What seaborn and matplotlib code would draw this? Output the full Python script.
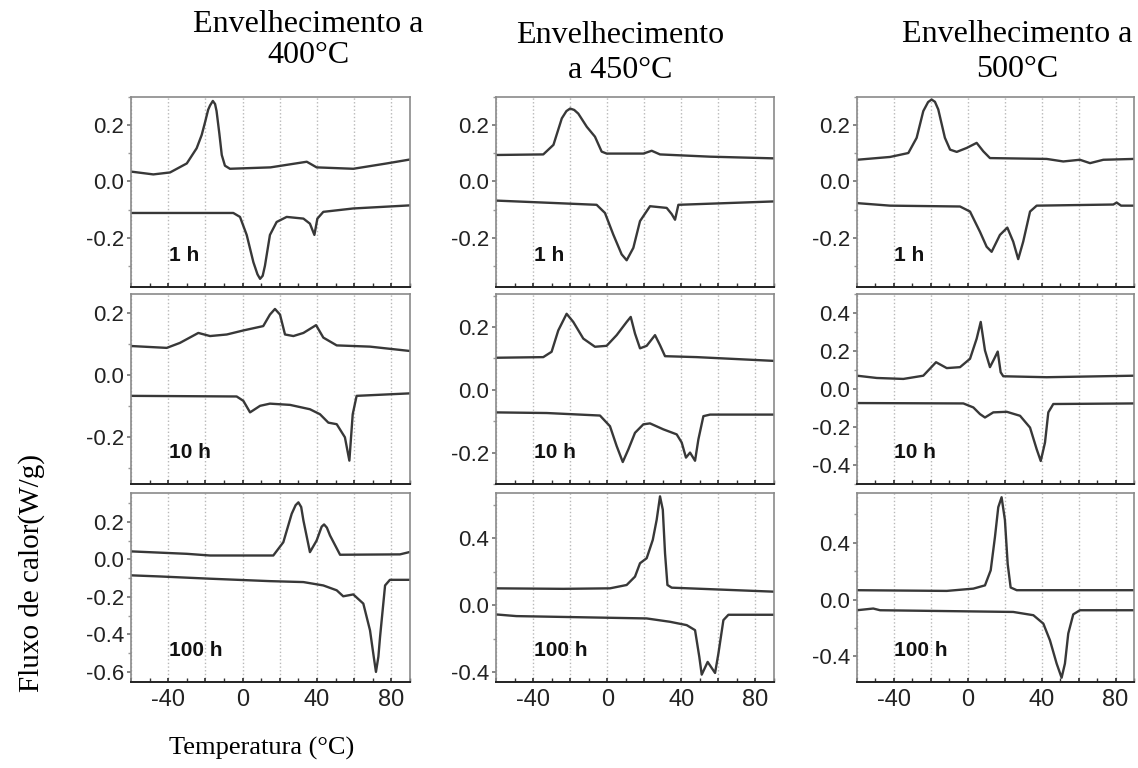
# -*- coding: utf-8 -*-
import matplotlib
matplotlib.use("Agg")
import matplotlib.pyplot as plt
import seaborn as sns
from matplotlib.ticker import MultipleLocator, FuncFormatter, FormatStrFormatter

# ==========================================
# 1. Data (T in °C, heat flow in W/g)
# ==========================================
# --- 400 °C ---
t400_1h_up = [-60, -48, -39, -30, -24.7, -22, -20.2, -18.5, -17.5, -16, -14.8, -14, -12.5, -11.2, -9.5, -6.8, 15, 34.5, 39.8, 59.5, 77.5, 90]
q400_1h_up = [0.035, 0.025, 0.032, 0.064, 0.118, 0.165, 0.21, 0.255, 0.27, 0.286, 0.275, 0.25, 0.17, 0.094, 0.056, 0.045, 0.05, 0.07, 0.05, 0.045, 0.064, 0.078]
t400_1h_dn = [-60, -5, -1.4, 2.2, 5.8, 8, 9.4, 10.8, 12, 14.7, 18.3, 23.7, 32.7, 36.2, 38.6, 40.2, 43.4, 59.5, 90]
q400_1h_dn = [-0.112, -0.112, -0.126, -0.19, -0.287, -0.33, -0.346, -0.335, -0.30, -0.19, -0.144, -0.126, -0.132, -0.15, -0.19, -0.132, -0.108, -0.096, -0.085]

t400_10h_up = [-60, -40.8, -33.7, -23.8, -17.5, -8.5, 0.4, 11.1, 14.7, 17.4, 20.1, 22.8, 27.3, 32.7, 39.5, 43.4, 50.6, 68.5, 90]
q400_10h_up = [0.093, 0.087, 0.103, 0.135, 0.125, 0.13, 0.143, 0.157, 0.194, 0.212, 0.194, 0.13, 0.125, 0.135, 0.16, 0.12, 0.095, 0.091, 0.077]
t400_10h_dn = [-60, -3.2, 0.4, 4, 9.4, 14.7, 25.5, 36.2, 41.6, 46.1, 50.6, 55, 57.4, 59.2, 61.3, 90]
q400_10h_dn = [-0.067, -0.069, -0.083, -0.12, -0.099, -0.092, -0.096, -0.11, -0.126, -0.153, -0.158, -0.2, -0.275, -0.126, -0.067, -0.059]

t400_100h_up = [-60, -30, -17.5, 16.5, 21.9, 26.4, 28.5, 30, 31.5, 32.7, 36.2, 39.8, 42.5, 43.8, 45.3, 47, 52.4, 84.6, 90]
q400_100h_up = [0.043, 0.03, 0.021, 0.021, 0.092, 0.244, 0.29, 0.305, 0.28, 0.208, 0.039, 0.101, 0.175, 0.187, 0.17, 0.128, 0.025, 0.027, 0.04]
t400_100h_dn = [-60, -44.4, -17.5, 14.7, 32.7, 43.4, 50.6, 54.1, 59.5, 64.9, 68.5, 70.5, 71.7, 73, 73.9, 76.6, 79.2, 90]
q400_100h_dn = [-0.085, -0.091, -0.103, -0.116, -0.121, -0.139, -0.165, -0.197, -0.187, -0.236, -0.379, -0.52, -0.601, -0.52, -0.414, -0.139, -0.109, -0.109]

# --- 450 °C ---
t450_1h_up = [-60, -34.5, -29, -24.5, -22, -20, -17.8, -15.6, -11, -6.6, -3, -0.3, 19.5, 24, 28.5, 55.5, 90]
q450_1h_up = [0.094, 0.096, 0.13, 0.224, 0.25, 0.259, 0.254, 0.241, 0.194, 0.159, 0.106, 0.099, 0.099, 0.109, 0.096, 0.088, 0.082]
t450_1h_dn = [-60, -27.2, -5.7, -1.2, 3.3, 7.8, 10.5, 14.1, 17.7, 23.1, 32.1, 34.8, 36.6, 38.4, 90]
q450_1h_dn = [-0.068, -0.077, -0.083, -0.112, -0.189, -0.259, -0.28, -0.236, -0.141, -0.088, -0.094, -0.116, -0.136, -0.083, -0.071]

t450_10h_up = [-60, -34.5, -30, -26.4, -21.9, -18.3, -12.9, -6.6, -0.3, 5.1, 10.5, 12.7, 15, 17.7, 21.3, 25.8, 28.5, 31.2, 48.3, 90]
q450_10h_up = [0.102, 0.104, 0.121, 0.189, 0.242, 0.216, 0.163, 0.137, 0.14, 0.174, 0.216, 0.232, 0.179, 0.132, 0.14, 0.174, 0.142, 0.107, 0.104, 0.092]
t450_10h_dn = [-60, -32.6, -3.9, 1.5, 5.1, 8.4, 11.4, 15, 19.5, 23.1, 30.3, 37.5, 40.2, 42.5, 44.7, 47.4, 49.2, 51.9, 55.5, 90]
q450_10h_dn = [-0.072, -0.074, -0.082, -0.116, -0.179, -0.23, -0.19, -0.137, -0.11, -0.107, -0.126, -0.142, -0.168, -0.216, -0.2, -0.226, -0.158, -0.084, -0.079, -0.079]

t450_100h_up = [-60, -23.7, 1.5, 10.5, 15, 17.7, 21.3, 24.6, 26.7, 28.5, 30, 31.2, 32.5, 34.8, 90]
q450_100h_up = [0.1, 0.097, 0.1, 0.12, 0.17, 0.25, 0.28, 0.39, 0.51, 0.65, 0.57, 0.31, 0.12, 0.104, 0.08]
t450_100h_dn = [-60, -49, 21.3, 33.9, 42.9, 47.4, 49.7, 51, 54.2, 58.2, 60, 62.7, 65.4, 90]
q450_100h_dn = [-0.056, -0.066, -0.08, -0.1, -0.12, -0.15, -0.31, -0.416, -0.34, -0.406, -0.29, -0.09, -0.058, -0.058]

# --- 500 °C ---
t500_1h_up = [-60, -42.1, -32.2, -27.7, -24.1, -21.5, -19.6, -17.8, -16, -12.4, -9.6, -6, -0.6, 4.8, 8.4, 12, 42.7, 51.7, 60.7, 66.2, 73.4, 90]
q500_1h_up = [0.077, 0.087, 0.101, 0.155, 0.25, 0.282, 0.291, 0.283, 0.256, 0.155, 0.113, 0.105, 0.119, 0.137, 0.107, 0.083, 0.08, 0.071, 0.077, 0.065, 0.077, 0.08]
t500_1h_dn = [-60, -42.1, -4.2, 1.2, 6.6, 10.2, 12.9, 17.4, 21.4, 24.6, 27.3, 30, 33.7, 37.3, 78.8, 80.6, 83, 90]
q500_1h_dn = [-0.077, -0.086, -0.089, -0.107, -0.179, -0.232, -0.25, -0.19, -0.164, -0.214, -0.276, -0.214, -0.107, -0.086, -0.082, -0.075, -0.086, -0.086]

t500_10h_up = [-60, -49.3, -34.9, -24.1, -17.2, -11.4, -4.2, 1.2, 4.8, 7, 9.3, 12, 14.3, 16.2, 17.8, 19.2, 42.7, 90]
q500_10h_up = [0.07, 0.058, 0.053, 0.07, 0.141, 0.11, 0.115, 0.159, 0.265, 0.353, 0.203, 0.115, 0.159, 0.197, 0.088, 0.067, 0.062, 0.07]
t500_10h_dn = [-60, -2.4, 3, 6.6, 9.3, 13.8, 21.1, 28.3, 33.7, 37.3, 39.5, 41.8, 43.6, 46.3, 90]
q500_10h_dn = [-0.074, -0.076, -0.097, -0.132, -0.15, -0.123, -0.12, -0.141, -0.203, -0.317, -0.379, -0.282, -0.123, -0.079, -0.076]

t500_100h_up = [-60, -11.4, 3, 9.3, 12.4, 14.7, 16.5, 18.3, 20.1, 21.6, 23.2, 26.5, 90]
q500_100h_up = [0.066, 0.061, 0.077, 0.1, 0.206, 0.44, 0.65, 0.72, 0.56, 0.25, 0.085, 0.066, 0.066]
t500_100h_dn = [-60, -51.2, -47.5, 24.6, 35.5, 40.9, 44.5, 48.1, 50.8, 52.6, 54.4, 57.1, 60.7, 90]
q500_100h_dn = [-0.075, -0.063, -0.075, -0.087, -0.11, -0.169, -0.287, -0.45, -0.55, -0.45, -0.239, -0.104, -0.075, -0.075]

col_titles = ["Envelhecimento a\n400°C", "Envelhecimento\na 450°C", "Envelhecimento a\n500°C"]
row_labels = ["1 h", "10 h", "100 h"]

panels = [
    [(t400_1h_up, q400_1h_up, t400_1h_dn, q400_1h_dn),
     (t400_10h_up, q400_10h_up, t400_10h_dn, q400_10h_dn),
     (t400_100h_up, q400_100h_up, t400_100h_dn, q400_100h_dn)],
    [(t450_1h_up, q450_1h_up, t450_1h_dn, q450_1h_dn),
     (t450_10h_up, q450_10h_up, t450_10h_dn, q450_10h_dn),
     (t450_100h_up, q450_100h_up, t450_100h_dn, q450_100h_dn)],
    [(t500_1h_up, q500_1h_up, t500_1h_dn, q500_1h_dn),
     (t500_10h_up, q500_10h_up, t500_10h_dn, q500_10h_dn),
     (t500_100h_up, q500_100h_up, t500_100h_dn, q500_100h_dn)],
]

# ==========================================
# 2. Style and layout
# ==========================================
sns.set_theme(style="white")
plt.rcParams['font.family'] = ['Liberation Sans', 'DejaVu Sans']
plt.rcParams['axes.unicode_minus'] = False

# per panel y-limits and major y step  [col][row]
ylims = [[(-0.375, 0.30), (-0.35, 0.26), (-0.655, 0.355)],
         [(-0.375, 0.30), (-0.30, 0.305), (-0.46, 0.67)],
         [(-0.375, 0.30), (-0.50, 0.50), (-0.58, 0.75)]]
ysteps = [[0.2, 0.2, 0.2],
          [0.2, 0.2, 0.4],
          [0.2, 0.2, 0.4]]

W, H = 1138, 768
col_left = [131, 496, 857]
col_width = [279, 278, 277]
row_top = [97, 294, 493]
row_bottom = [287, 484, 682]

fig = plt.figure(figsize=(W / 100, H / 100), dpi=100)
line_color = "#383838"

for c in range(3):
    for r in range(3):
        ax = fig.add_axes([col_left[c] / W, 1 - row_bottom[r] / H,
                           col_width[c] / W, (row_bottom[r] - row_top[r]) / H])
        tu, qu, td, qd = panels[c][r]
        for tx, qy in [(tu, qu), (td, qd)]:
            sns.lineplot(x=tx, y=qy, ax=ax, color=line_color, linewidth=1.7,
                         estimator=None, sort=False, solid_joinstyle='round')

        ax.set_xlim(-60, 90)
        ax.set_ylim(*ylims[c][r])
        ax.xaxis.set_major_locator(MultipleLocator(20))
        ax.xaxis.set_minor_locator(MultipleLocator(10))
        ax.xaxis.set_major_formatter(FuncFormatter(lambda v, p: f"{v:.0f}" if abs(v) % 40 < 1e-6 else ""))
        ax.yaxis.set_major_locator(MultipleLocator(ysteps[c][r]))
        ax.yaxis.set_minor_locator(MultipleLocator(ysteps[c][r] / 2))
        ax.yaxis.set_major_formatter(FormatStrFormatter('%.1f'))

        ax.grid(axis='x', which='major', linestyle=':', color='#b8b8b8', linewidth=1.0)
        ax.tick_params(axis='x', which='both', direction='in', bottom=True, length=3,
                       color='#333333', labelsize=17, labelcolor='#222222', pad=5)
        ax.tick_params(axis='y', which='major', direction='out', left=True, length=3,
                       color='#777777', labelsize=16, labelcolor='#222222', pad=2)
        ax.tick_params(axis='y', which='minor', direction='out', left=True, length=2, color='#999999')
        if r < 2:
            ax.tick_params(axis='x', labelbottom=False)

        for side in ['top', 'left', 'right']:
            ax.spines[side].set_color('#8a8a8a')
            ax.spines[side].set_linewidth(1.2)
        ax.spines['bottom'].set_color('#222222')
        ax.spines['bottom'].set_linewidth(1.4)
        ax.set_xlabel("")
        ax.set_ylabel("")

        ax.text(0.135, 0.165, row_labels[r], transform=ax.transAxes, ha='left', va='center',
                fontsize=15, fontweight='bold', color='#111111')

# ==========================================
# 3. Titles and axis labels
# ==========================================
serif = ['Liberation Serif', 'DejaVu Serif']
title_pos = [(308, 40, 1.05), (620, 53, 1.25), (1017, 52, 1.25)]
for (x, y, ls), title in zip(title_pos, col_titles):
    fig.text(x / W, 1 - y / H, title, ha='center', va='center', fontsize=23,
             family=serif, linespacing=ls, color='black')

fig.text(32 / W, 1 - 573 / H, "Fluxo de calor(W/g)", rotation=90, ha='center', va='center',
         fontsize=21, family=serif, color='black')
fig.text(262 / W, 1 - 748 / H, "Temperatura (°C)", ha='center', va='center',
         fontsize=19, family=serif, color='black')

plt.savefig("out.png", dpi=100)
plt.close()
